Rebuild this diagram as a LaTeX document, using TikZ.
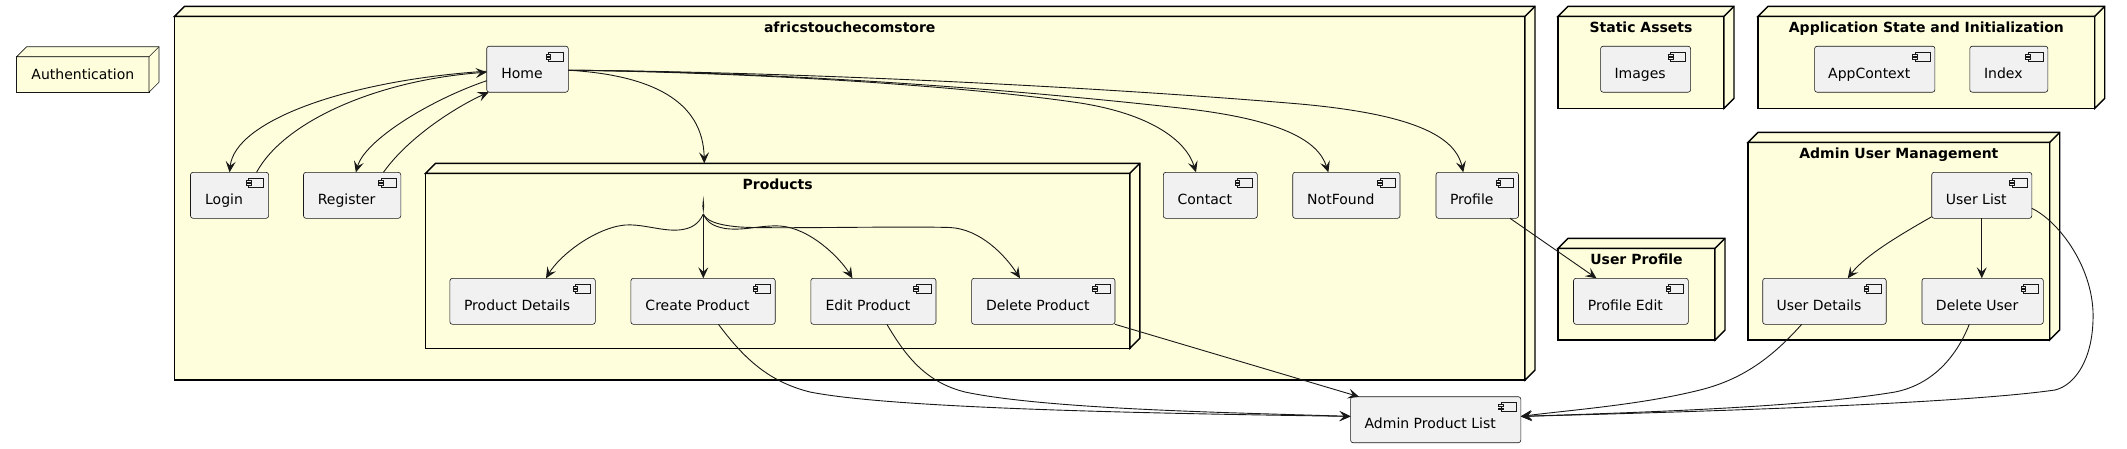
\documentclass[tikz,border=0pt]{standalone}
\usepackage{fontspec}
\setmainfont{DejaVu Sans}
\usetikzlibrary{arrows.meta}
\definecolor{ink}{HTML}{181818}
\definecolor{nodefill}{HTML}{FEFEDC}
\definecolor{cfill}{HTML}{F1F1F1}
\newcommand\depthbox[2]{%
  \filldraw[#1] (#2.north west) -- ++(10,-10) -- ([shift={(10,-10)}]#2.north east)
     -- ([shift={(10,-10)}]#2.south east) -- (#2.south east) -- (#2.north east) -- cycle;
  \draw[#1] (#2.north east) -- ++(10,-10);}
\begin{document}
\begin{tikzpicture}[x=1pt,y=-1pt,
  cont/.style={draw=black, line width=1.4pt, fill=nodefill, outer sep=0pt, inner sep=0pt},
  contback/.style={draw=black, line width=1.4pt, fill=nodefill, line join=miter},
  leaf/.style={draw=ink, line width=0.6pt, fill=nodefill, outer sep=0pt, inner sep=0pt,
    font=\fontsize{14}{16}\selectfont},
  leafback/.style={draw=ink, line width=0.6pt, fill=nodefill},
  ctitle/.style={anchor=base, inner sep=0pt, font=\bfseries\fontsize{14}{16}\selectfont},
  comp/.style={draw=ink, line width=0.6pt, fill=cfill, rounded corners=2.5pt,
    minimum height=46pt, inner xsep=0pt, inner ysep=0pt, text height=18pt, text depth=0pt,
    outer sep=0pt, anchor=north west, font=\fontsize{14}{16}\selectfont,
    execute at end node={\hspace*{11pt}},
    path picture={
      \draw[sharp corners, draw=ink, line width=0.5pt, fill=cfill]
        ([shift={(-20,5.7)}]path picture bounding box.north east) rectangle ++(15,9.3);
      \draw[sharp corners, draw=ink, line width=0.5pt, fill=cfill]
        ([shift={(-22.3,8)}]path picture bounding box.north east) rectangle ++(4.5,1.7);
      \draw[sharp corners, draw=ink, line width=0.5pt, fill=cfill]
        ([shift={(-22.3,11.3)}]path picture bounding box.north east) rectangle ++(4.5,1.7);
    }},
  arr/.style={draw=ink, line width=0.9pt, -{Stealth[length=11pt,width=10pt,inset=4.5pt]}}
]
\useasboundingbox[fill=white] (0,0) rectangle (2127,448);

% containers
\node[cont, minimum width=1350.5pt, minimum height=363.7pt] (store) at (849.75,198.15) {};
\depthbox{contback}{store}
\node[ctitle] (storetitle) at (849.75,32.3) {africstouchecomstore};

\node[cont, minimum width=704.2pt, minimum height=175pt] (products) at (777.7,260.8) {};
\depthbox{contback}{products}
\node[ctitle] (productstitle) at (777.7,189.3) {Products};

\node[cont, minimum width=166pt, minimum height=92pt] (static) at (1641,62.3) {};
\depthbox{contback}{static}
\node[ctitle] (statictitle) at (1641,32.3) {Static Assets};

\node[cont, minimum width=336.7pt, minimum height=92pt] (appstate) at (1926.35,62.3) {};
\depthbox{contback}{appstate}
\node[ctitle] (appstatetitle) at (1926.35,32.3) {Application State and Initialization};

\node[cont, minimum width=301.7pt, minimum height=197.7pt] (adminum) at (1898.85,241.15) {};
\depthbox{contback}{adminum}
\node[ctitle] (adminumtitle) at (1898.85,158.3) {Admin User Management};

\node[cont, minimum width=157pt, minimum height=91.7pt] (userprof) at (1636.5,294.15) {};
\depthbox{contback}{userprof}
\node[ctitle] (userproftitle) at (1636.5,264.3) {User Profile};

\node[leaf, minimum width=132.3pt, minimum height=35.6pt] (auth) at (82.85,74.5) {Authentication};
\depthbox{leafback}{auth}

% components
\node[comp, minimum width=81.6pt] (home) at (486.7,46.2) {Home};
\node[comp, minimum width=78.1pt] (login) at (190.5,172.3) {Login};
\node[comp, minimum width=97.3pt] (register) at (303.5,172.3) {Register};
\node[comp, minimum width=145.4pt] (pdetails) at (449.9,278.3) {Product Details};
\node[comp, minimum width=144.3pt] (pcreate) at (630.9,278.3) {Create Product};
\node[comp, minimum width=125.2pt] (pedit) at (810.8,278.3) {Edit Product};
\node[comp, minimum width=143.4pt] (pdelete) at (971.6,278.3) {Delete Product};
\node[comp, minimum width=94pt] (contact) at (1163.3,172.3) {Contact};
\node[comp, minimum width=107.3pt] (notfound) at (1292.7,172.3) {NotFound};
\node[comp, minimum width=82.5pt] (profile) at (1436,172.3) {Profile};
\node[comp, minimum width=170.2pt] (apl) at (1350.6,396.7) {Admin Product List};
\node[comp, minimum width=90pt] (images) at (1600.6,46.2) {Images};
\node[comp, minimum width=120.3pt] (appcontext) at (1814.6,46.2) {AppContext};
\node[comp, minimum width=78pt] (index) at (1969.8,46.2) {Index};
\node[comp, minimum width=100.1pt] (userlist) at (1931.7,172.3) {User List};
\node[comp, minimum width=123.5pt] (userdetails) at (1762.7,278.3) {User Details};
\node[comp, minimum width=121.3pt] (deleteuser) at (1922,278.3) {Delete User};
\node[comp, minimum width=114.8pt] (profileedit) at (1573.5,278.3) {Profile Edit};

% edges: Home <-> Login / Register
\draw[arr] ([shift={(0,2)}]home.west) .. controls (350,80) and (235,120) .. (login.north);
\draw[arr] ([shift={(27,0)}]login.north) .. controls (285,120) and (380,80) .. ([shift={(0,3)}]home.west);
\draw[arr] ([shift={(0,11.5)}]home.west) .. controls (430,100) and (365,140) .. ([shift={(3.7,0)}]register.north);
\draw[arr] ([shift={(31.3,0)}]register.north) .. controls (410,135) and (460,105) .. ([shift={(2,0)}]home.south west);

% Home -> others
\draw[arr] ([shift={(0,1)}]home.east) .. controls (650,75) and (703,100) .. ([shift={(-73.4,-10)}]products.north);
\draw[arr] ([shift={(0,1)}]home.east) .. controls (780,73) and (980,88) .. (1080,103)
   .. controls (1150,114) and (1186,140) .. ([shift={(-14.3,0)}]contact.north);
\draw[arr] ([shift={(0,1)}]home.east) .. controls (780,72) and (1000,88) .. (1180,108)
   .. controls (1280,119) and (1318,140) .. ([shift={(-18,0)}]notfound.north);
\draw[arr] ([shift={(0,1)}]home.east) .. controls (800,72) and (1100,87) .. (1300,104)
   .. controls (1410,114) and (1455,135) .. ([shift={(-14,0)}]profile.north);

% Products junction
\coordinate (J) at (703.3,214);
\fill[ink] (703.3,196) -- (704.2,206) -- (J) -- (702.4,206) -- cycle;
\draw[arr] (J) .. controls (698,226) and (688,231) .. (670,230)
   .. controls (655,229) and (640,224) .. (625,225)
   .. controls (595,228) and (560,255) .. ([shift={(23.4,0)}]pdetails.north);
\draw[arr] (J) -- (J |- pcreate.north);
\draw[arr] (J) .. controls (707,222) and (712,226) .. (725,228.5)
   .. controls (745,231) and (760,225) .. (780,226)
   .. controls (810,228) and (840,258) .. ([shift={(-21,0)}]pedit.north);
\draw[arr] (J) .. controls (706,220) and (715,225) .. (740,227)
   .. controls (770,229) and (900,226) .. (950,227.5)
   .. controls (980,229) and (1005,255) .. ([shift={(-23.3,0)}]pdelete.north);

% to Admin Product List
\draw[arr] ([shift={(15.4,0)}]pcreate.south) .. controls (745,360) and (770,382) .. (810,392)
   .. controls (900,410) and (1200,414) .. ([shift={(0,-3.3)}]apl.west);
\draw[arr] ([shift={(13.5,0)}]pedit.south) .. controls (905,355) and (925,382) .. (965,392)
   .. controls (1050,410) and (1250,413) .. ([shift={(0,-3.3)}]apl.west);
\draw[arr] (pdelete.south east) -- ([shift={(8.4,0)}]apl.north west);

\draw[arr] ([shift={(-8.5,0)}]profile.south east) -- ([shift={(-34.4,0)}]profileedit.north);

\draw[arr] ([shift={(0,-1.6)}]userlist.south west) .. controls (1905,232) and (1865,255) .. ([shift={(23.3,0)}]userdetails.north);
\draw[arr] (userlist.south) -- (userlist.south |- deleteuser.north);
\draw[arr] ([shift={(0,13)}]userlist.east) .. controls (2060,222) and (2095,270) .. (2093,320)
   .. controls (2092,360) and (2075,385) .. (2055,390)
   .. controls (1950,405) and (1650,413) .. ([shift={(0,-3.3)}]apl.east);
\draw[arr] ([shift={(-22.75,0)}]userdetails.south) .. controls (1770,360) and (1740,380) .. (1700,390)
   .. controls (1640,405) and (1570,410) .. ([shift={(0,-3.3)}]apl.east);
\draw[arr] ([shift={(-13.35,0)}]deleteuser.south) .. controls (1955,360) and (1930,385) .. (1895,392)
   .. controls (1800,408) and (1620,413) .. ([shift={(0,-3.3)}]apl.east);
\end{tikzpicture}
\end{document}
